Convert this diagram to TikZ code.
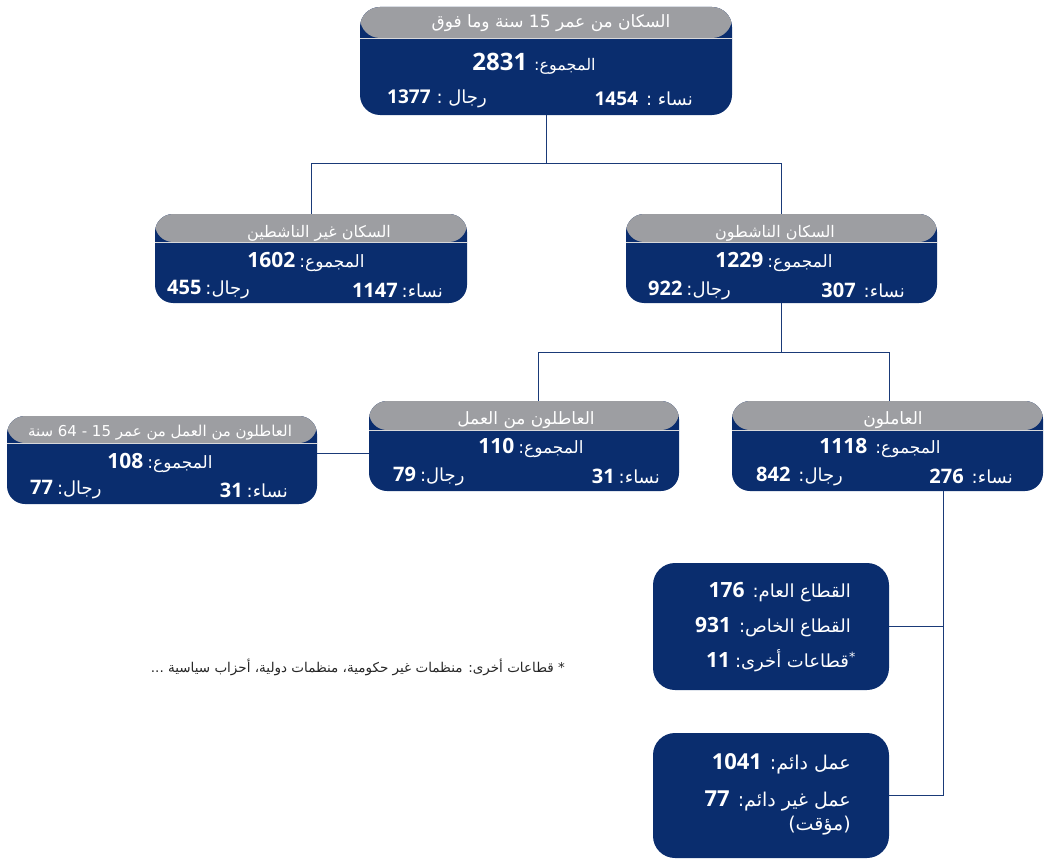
\documentclass[tikz,border=0pt]{standalone}
\usepackage{fontspec}
\TeXXeTstate=1
\newfontfamily\arfont[Script=Arabic]{DejaVu Sans}
\newfontfamily\numf{Open Sans}
\definecolor{navy}{HTML}{0A2D6E}
\definecolor{hgray}{HTML}{9D9EA2}
\definecolor{lnc}{HTML}{1A3A78}
\newcommand\nm[2]{{\numf\bfseries\fontsize{#1}{#1}\selectfont #2}}
\newcommand\lb[2]{{\arfont\fontsize{#1}{#1}\selectfont #2}}
\tikzset{
  panel/.style={fill=navy, rounded corners=18pt, inner sep=0pt, outer sep=0pt},
  header/.style={path picture={
      \fill[hgray] ([yshift=2pt]path picture bounding box.north west) rectangle ([yshift=-#1]path picture bounding box.north east);
      \draw[white!60!hgray, line width=0.6pt] ([yshift=-#1]path picture bounding box.north west) -- ([yshift=-#1]path picture bounding box.north east);}},
  wt/.style={text=white, inner sep=0pt},
  conn/.style={draw=lnc, line width=0.9pt},
  note/.style={text=black!85, inner sep=0pt}
}
\begin{document}
\begin{tikzpicture}[x=1pt,y=-1pt]
\useasboundingbox (0,0) rectangle (1050,859);
% ---------- top box
\node[panel, header=31pt, rounded corners=20pt, minimum width=372pt, minimum height=108pt] (top) at (546,61) {};
\node[wt] (toph) at (551,23) {\lb{17}{\beginR السكان من عمر 15 سنة وما فوق\endR}};
\node[wt] (topt) at (534,64) {\nm{24}{2831}\hspace{7pt}\lb{16}{\beginR المجموع:\endR}};
\node[wt, anchor=west] (topm) at (387,99) {\nm{19}{1377}\hspace{6pt}\lb{18}{\beginR رجال :\endR}};
\node[wt, anchor=east] (topw) at (693,99) {\nm{19}{1454}\hspace{8pt}\lb{18}{\beginR نساء :\endR}};
% ---------- inactive
\node[panel, header=28pt, minimum width=312pt, minimum height=89pt] (inact) at (311,258.5) {};
\node[wt] (inacth) at (319,233) {\lb{16}{\beginR السكان غير الناشطين\endR}};
\node[wt] (inactt) at (306,262) {\nm{21}{1602}\hspace{4pt}\lb{17}{\beginR المجموع:\endR}};
\node[wt, anchor=west] (inactm) at (167,290) {\nm{20}{455}\hspace{4pt}\lb{18}{\beginR رجال:\endR}};
\node[wt, anchor=east] (inactw) at (443,290) {\nm{20}{1147}\hspace{4pt}\lb{18}{\beginR نساء:\endR}};
% ---------- active
\node[panel, header=28pt, minimum width=311pt, minimum height=89pt] (act) at (781.5,258.5) {};
\node[wt] (acth) at (775,233) {\lb{16}{\beginR السكان الناشطون\endR}};
\node[wt] (actt) at (774,262) {\nm{21}{1229}\hspace{4pt}\lb{17}{\beginR المجموع:\endR}};
\node[wt, anchor=west] (actm) at (648,290) {\nm{20}{922}\hspace{4pt}\lb{18}{\beginR رجال:\endR}};
\node[wt, anchor=east] (actw) at (905,290) {\nm{20}{307}\hspace{8pt}\lb{18}{\beginR نساء:\endR}};
% ---------- unemployed 15-64
\node[panel, header=27pt, minimum width=310pt, minimum height=88pt] (unf) at (162,460) {};
\node[wt] (unfh) at (160,433) {\lb{15}{\beginR العاطلون من العمل من عمر 15 - 64 سنة\endR}};
\node[wt] (unft) at (160,463) {\nm{21}{108}\hspace{4pt}\lb{17}{\beginR المجموع:\endR}};
\node[wt, anchor=west] (unfm) at (30,490) {\nm{20}{77}\hspace{4pt}\lb{18}{\beginR رجال:\endR}};
\node[wt, anchor=east] (unfw) at (288,490) {\nm{20}{31}\hspace{4pt}\lb{18}{\beginR نساء:\endR}};
% ---------- unemployed
\node[panel, header=29pt, minimum width=310pt, minimum height=90pt] (une) at (524,446) {};
\node[wt] (uneh) at (526,420) {\lb{17}{\beginR العاطلون من العمل\endR}};
\node[wt] (unet) at (531,448) {\nm{21}{110}\hspace{4pt}\lb{17}{\beginR المجموع:\endR}};
\node[wt, anchor=west] (unem) at (393,476) {\nm{20}{79}\hspace{4pt}\lb{18}{\beginR رجال:\endR}};
\node[wt, anchor=east] (unew) at (660,476) {\nm{20}{31}\hspace{4pt}\lb{18}{\beginR نساء:\endR}};
% ---------- employed
\node[panel, header=29pt, minimum width=311pt, minimum height=90pt] (emp) at (887.5,446) {};
\node[wt] (emph) at (893,420) {\lb{17}{\beginR العاملون\endR}};
\node[wt] (empt) at (880,448) {\nm{21}{1118}\hspace{8pt}\lb{17}{\beginR المجموع:\endR}};
\node[wt, anchor=west] (empm) at (756,476) {\nm{20}{842}\hspace{8pt}\lb{18}{\beginR رجال:\endR}};
\node[wt, anchor=east] (empw) at (1013,476) {\nm{20}{276}\hspace{8pt}\lb{18}{\beginR نساء:\endR}};
% ---------- sectors
\node[panel, rounded corners=22pt, minimum width=236pt, minimum height=127pt] (sec) at (771,626.5) {};
\node[wt, anchor=east] (sec1) at (851,592) {\nm{21}{176}\hspace{8pt}\lb{18}{\beginR القطاع العام:\endR}};
\node[wt, anchor=east] (sec2) at (851,627) {\nm{21}{931}\hspace{8pt}\lb{18}{\beginR القطاع الخاص:\endR}};
\node[wt, anchor=east] (sec3) at (856,661) {\nm{21}{11}\hspace{5pt}\lb{18}{\beginR\textsuperscript{*}قطاعات أخرى:\endR}};
% ---------- permanence
\node[panel, rounded corners=22pt, minimum width=236pt, minimum height=125pt] (perm) at (771,795.5) {};
\node[wt, anchor=east] (perm1) at (851,764) {\nm{22}{1041}\hspace{8pt}\lb{19}{\beginR عمل دائم:\endR}};
\node[wt, anchor=east] (perm2) at (851,801) {\nm{22}{77}\hspace{8pt}\lb{19}{\beginR عمل غير دائم:\endR}};
\node[wt, anchor=east] (perm3) at (851,826) {\lb{19}{\beginR (مؤقت)\endR}};
% ---------- footnote
\node[note, anchor=east] (fn) at (565,667) {\lb{13.5}{\beginR * قطاعات أخرى: منظمات غير حكومية، منظمات دولية، أحزاب سياسية ...\endR}};
% ---------- connectors
\coordinate (j1) at (546,163);
\draw[conn] (top.south) -- (j1);
\draw[conn] (j1) -| (inact.north);
\draw[conn] (j1) -| (act.north);
\coordinate (j2) at (781.5,352);
\draw[conn] (act.south) -- (j2);
\draw[conn] (j2) -| ([xshift=14pt]une.north);
\draw[conn] (j2) -| ([xshift=2pt]emp.north);
\coordinate (h1) at (340,453);
\draw[conn] (unf.east |- h1) -- (une.west |- h1);
\coordinate (e1) at ([xshift=55.5pt]emp.south);
\draw[conn] (e1) |- (perm.east);
\draw[conn] (sec.east) -- (sec.east -| e1);
\end{tikzpicture}
\end{document}
